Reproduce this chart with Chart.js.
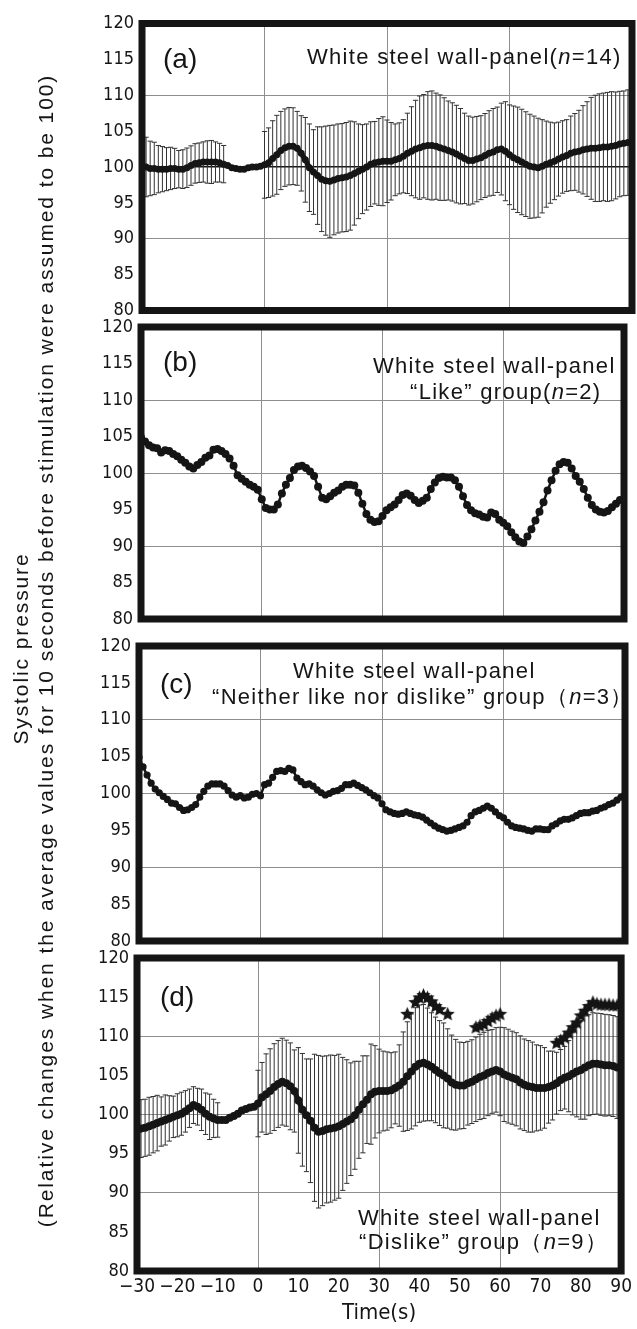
<!DOCTYPE html>
<html><head><meta charset="utf-8">
<script src="https://cdn.jsdelivr.net/npm/chart.js@4"></script>
<style>
html,body{margin:0;padding:0;background:#fff;}
#wrap{position:relative;width:637px;height:1329px;overflow:hidden;background:#fff;}
canvas{position:absolute;left:0;}
.t{position:absolute;white-space:nowrap;font-family:"Liberation Sans",Arial,sans-serif;color:#151515;}
.ttl{font-size:22px;line-height:22px;letter-spacing:1.3px;}
.lab{font-size:28px;line-height:28px;}
.ylab{position:absolute;font-family:"Liberation Sans",Arial,sans-serif;font-size:21px;line-height:21px;letter-spacing:1.9px;white-space:nowrap;text-align:center;width:1300px;height:21px;transform:rotate(-90deg);color:#151515;}
</style></head>
<body>
<div id="wrap">
  <canvas id="ca" width="637" height="330" style="top:0px"></canvas>
  <canvas id="cb" width="637" height="340" style="top:300px"></canvas>
  <canvas id="cc" width="637" height="344" style="top:616px"></canvas>
  <canvas id="cd" width="637" height="399" style="top:930px"></canvas>

  <div class="ylab" style="left:-630px;top:637.5px">Systolic pressure</div>
  <div class="ylab" style="left:-605px;top:639.5px">(Relative changes when the average values for 10 seconds before stimulation were assumed to be 100)</div>

  <div class="t lab" style="left:163px;top:45px">(a)</div>
  <div class="t ttl" style="left:307px;top:46px">White steel wall-panel(<i>n</i>=14)</div>

  <div class="t lab" style="left:163px;top:348px">(b)</div>
  <div class="t ttl" style="left:373px;top:355px">White steel wall-panel</div>
  <div class="t ttl" style="left:410px;top:381px">“Like” group(<i>n</i>=2)</div>

  <div class="t lab" style="left:160px;top:670px">(c)</div>
  <div class="t ttl" style="left:293px;top:660px">White steel wall-panel</div>
  <div class="t ttl" style="left:212px;top:686px">“Neither like nor dislike” group（<i>n</i>=3）</div>

  <div class="t lab" style="left:160px;top:983px">(d)</div>
  <div class="t ttl" style="left:358px;top:1207px">White steel wall-panel</div>
  <div class="t ttl" style="left:359px;top:1231px">“Dislike” group（<i>n</i>=9）</div>
</div>
<script>
// ---------- DATA ----------
const seconds = [-30,-29,-28,-27,-26,-25,-24,-23,-22,-21,-20,-19,-18,-17,-16,-15,-14,-13,-12,-11,
 -10,-9,-8,-7,-6,-5,-4,-3,-2,-1,0,1,2,3,4,5,6,7,8,9,10,11,12,13,14,15,16,17,18,19,
 20,21,22,23,24,25,26,27,28,29,30,31,32,33,34,35,36,37,38,39,40,41,42,43,44,45,46,47,48,49,
 50,51,52,53,54,55,56,57,58,59,60,61,62,63,64,65,66,67,68,69,70,71,72,73,74,75,76,77,78,79,
 80,81,82,83,84,85,86,87,88,89,90];

const yTicks = [80,85,90,95,100,105,110,115,120];
const xTicks = [-30,-20,-10,0,10,20,30,40,50,60,70,80,90];

// (a) all subjects n=14 : mean and SD
const meanA = [100.2,100.0,99.8,99.8,99.7,99.7,99.7,99.8,99.8,99.7,
 99.7,99.9,100.2,100.5,100.6,100.7,100.7,100.7,100.7,100.6,
 100.4,100.2,99.9,99.8,99.7,99.7,99.9,100.0,100.0,100.1,
 100.3,100.6,101.2,101.7,102.3,102.7,102.9,102.9,102.6,101.9,
 101.0,99.9,99.3,98.8,98.3,98.1,98.0,98.2,98.4,98.5,
 98.6,98.8,99.1,99.4,99.7,100.0,100.4,100.6,100.7,100.8,
 100.8,100.8,101.0,101.2,101.5,101.9,102.2,102.5,102.7,102.9,
 103.0,103.0,102.9,102.7,102.5,102.3,102.1,101.8,101.5,101.2,
 100.9,100.9,101.1,101.3,101.6,101.9,102.1,102.4,102.5,102.2,
 101.7,101.3,101.0,100.7,100.4,100.1,100.0,99.9,100.1,100.4,
 100.6,100.8,101.1,101.4,101.6,101.9,102.1,102.2,102.4,102.5,
 102.6,102.6,102.7,102.8,102.8,102.9,103.0,103.2,103.3,103.4,
 103.5];
const sdA = [4.4,4.15,3.8,3.65,3.3,3.15,3.0,2.95,2.8,2.6,
 2.7,2.75,2.75,2.75,2.75,2.8,2.95,3.0,2.8,2.7,
 2.6,null,null,null,null,null,null,null,null,null,
 4.65,4.85,5.25,5.5,5.45,5.4,5.4,5.35,5.15,5.25,
 5.9,6.1,5.9,6.8,7.3,7.6,7.8,7.65,7.6,7.55,
 7.6,7.6,7.2,6.6,6.2,6.0,5.9,5.75,6.05,6.2,
 5.75,5.4,5.0,4.95,5.1,5.6,6.2,6.8,7.2,7.2,
 7.5,7.6,7.4,7.35,7.15,6.9,6.85,6.8,6.65,6.3,
 6.2,6.05,5.95,5.85,5.85,5.95,6.05,5.95,6.4,6.9,
 6.95,7.2,7.35,7.35,7.3,7.25,7.1,6.9,6.5,6.0,
 5.65,5.35,5.15,5.05,5.0,5.2,5.35,5.7,6.15,6.6,
 7.1,7.4,7.5,7.5,7.6,7.6,7.45,7.35,7.3,7.35,
 7.35];

// (b) "Like" group n=2
const meanB = [104.9,104.3,103.8,103.5,103.4,102.8,103.1,103.0,102.6,102.3,
 101.8,101.4,100.9,100.6,101.1,101.5,102.1,102.4,103.2,103.3,
 103.0,102.6,102.0,101.0,99.7,99.2,98.8,98.4,98.1,97.7,
 96.4,95.2,95.0,95.0,95.7,97.2,98.4,99.3,100.4,100.9,
 101.0,100.7,100.2,99.6,98.1,96.6,96.4,96.8,97.3,97.6,
 98.1,98.4,98.4,98.3,97.3,95.8,94.4,93.6,93.3,93.4,
 94.1,94.9,95.3,95.7,96.3,97.0,97.2,96.9,96.3,95.9,
 96.2,96.6,97.8,98.7,99.3,99.5,99.4,99.4,99.0,98.1,
 96.8,95.6,94.9,94.5,94.3,94.0,93.9,94.6,94.4,93.6,
 93.2,92.7,91.9,91.2,90.6,90.4,91.3,92.3,93.5,94.7,
 96.0,97.6,99.0,100.3,101.2,101.5,101.4,100.6,99.6,98.8,
 97.8,96.6,95.6,95.0,94.7,94.6,94.8,95.3,95.8,96.3,
 96.2];

// (c) "Neither like nor dislike" group n=3
const meanC = [104.9,103.6,102.5,101.4,100.6,100.1,99.6,99.2,98.7,98.6,
 98.1,97.7,97.8,98.1,98.5,99.5,100.3,101.0,101.3,101.3,
 101.3,101.0,100.4,99.8,99.5,99.7,99.4,99.5,99.9,100.0,
 99.7,101.2,101.4,102.2,103.0,103.1,103.0,103.4,103.2,102.1,
 101.6,101.2,101.3,101.0,100.5,100.1,99.8,100.0,100.3,100.4,
 100.7,101.2,101.2,101.4,101.1,100.8,100.5,100.1,99.7,99.4,
 98.6,97.8,97.5,97.3,97.2,97.3,97.5,97.3,97.1,97.0,
 96.8,96.4,96.0,95.6,95.3,95.1,94.9,95.0,95.2,95.4,
 95.6,96.1,97.0,97.5,97.7,98.0,98.3,98.0,97.5,97.0,
 96.7,96.1,95.6,95.4,95.3,95.2,95.0,94.9,95.2,95.2,
 95.1,95.1,95.6,95.9,96.3,96.5,96.5,96.7,97.0,97.3,
 97.4,97.4,97.6,97.7,98.0,98.2,98.5,98.7,99.1,99.5,
 99.9];

// (d) "Dislike" group n=9 : mean and SD
const meanD = [98.0,98.2,98.3,98.5,98.7,98.9,99.1,99.3,99.5,99.7,
 99.9,100.1,100.4,100.8,101.2,101.0,100.6,100.1,99.7,99.5,
 99.3,99.3,99.3,99.6,99.8,100.1,100.5,100.7,100.9,101.0,
 101.4,102.2,102.6,103.0,103.5,103.9,104.2,104.0,103.6,103.0,
 101.8,100.6,99.9,99.2,98.3,97.8,97.9,98.1,98.2,98.3,
 98.5,98.8,99.1,99.4,99.9,100.6,101.3,101.9,102.6,102.9,
 103.0,103.0,103.0,103.1,103.4,103.7,104.2,104.9,105.5,106.1,
 106.5,106.6,106.4,106.1,105.7,105.3,105.0,104.6,104.1,103.8,
 103.7,103.7,104.0,104.2,104.5,104.8,105.0,105.3,105.5,105.7,
 105.5,105.1,104.9,104.7,104.5,104.1,103.8,103.6,103.5,103.4,
 103.4,103.4,103.5,103.7,104.0,104.4,104.7,104.9,105.2,105.5,
 105.7,106.0,106.3,106.5,106.5,106.4,106.3,106.3,106.2,106.0,
 105.9];
const sdD = [3.75,3.7,3.65,3.7,3.6,3.55,3.15,3.2,2.9,2.65,
 2.75,2.75,2.65,2.45,2.35,2.35,2.65,2.65,2.9,2.45,
 2.2,null,null,null,null,null,null,null,null,null,
 4.25,4.45,5.15,5.4,5.55,5.55,5.55,5.5,5.55,5.25,
 6.75,7.2,7.2,7.9,9.4,9.75,9.55,9.4,9.4,9.25,
 9.2,8.5,7.9,7.2,6.9,6.2,6.2,5.6,6.4,5.9,
 5.35,5.1,5.0,4.8,4.6,5.2,6.35,6.95,7.35,7.55,
 7.5,7.45,7.2,6.9,6.75,6.7,6.7,6.35,6.05,5.8,
 5.55,5.5,5.35,5.35,5.4,5.45,5.5,5.45,5.35,5.4,
 5.65,6.0,6.0,5.95,5.95,5.95,5.85,5.85,5.75,5.5,
 5.4,5.15,4.6,4.4,3.95,3.9,4.0,4.55,5.25,5.8,
 6.3,6.6,6.45,6.5,6.45,6.5,6.5,6.45,6.45,6.5,
 6.45];

// significance stars in (d): time and height
const starTimes = [37,39,40,41,42,43,44,45,47, 54,55,56,57,58,59,60, 74,75,76,77,78,79,80,81,82,83,84,85,86,87,88,89];
const starVals  = [112.8,114.3,114.9,115.2,114.9,114.4,113.8,113.4,112.8, 111.1,111.3,111.5,111.9,112.3,112.6,112.8,
                   109.1,109.4,109.8,110.4,111.1,111.7,112.6,113.2,113.8,114.3,114.1,114.0,114.0,114.0,113.9,113.9];

// ---------- DRAWING ----------
const INK = '#151515';
const tickFont = {family:'"Liberation Sans Narrow","DejaVu Sans Condensed",sans-serif', size:18};

function makeStar(r){
  const s = Math.ceil(r*2+2);
  const c = document.createElement('canvas'); c.width = s; c.height = s;
  const g = c.getContext('2d'); g.fillStyle = INK; g.beginPath();
  for (let k=0;k<10;k++){
    const ang = -Math.PI/2 + k*Math.PI/5;
    const rr = (k%2===0) ? r : r*0.45;
    g.lineTo(s/2 + rr*Math.cos(ang), s/2 + rr*Math.sin(ang));
  }
  g.closePath(); g.fill();
  return c;
}

const framePlugin = {
  id:'frame',
  afterDraw(chart){
    const {ctx, chartArea:a} = chart;
    ctx.save(); ctx.strokeStyle = INK; ctx.lineWidth = 7;
    ctx.strokeRect(a.left, a.top, a.right-a.left, a.bottom-a.top);
    ctx.restore();
  }
};

function panel(id, o){
  const datasets = [{
    type:'line', label:'mean', order:0,
    data: seconds.map((t,i)=>({x:t, y:o.mean[i]})),
    borderColor:INK, backgroundColor:INK, borderWidth:o.lw, tension:0,
    pointRadius:o.pr, pointHoverRadius:o.pr, pointBorderWidth:0, pointBackgroundColor:INK
  }];
  if (o.sd){
    const eb = [];
    seconds.forEach((t,i)=>{
      const s = o.sd[i]; if (s == null) return;
      eb.push({x:t, y:o.mean[i]-s}, {x:t, y:o.mean[i]+s}, {x:t, y:null});
    });
    datasets.push({type:'line', label:'sd', order:2, data:eb, spanGaps:false,
      borderColor:'#333', borderWidth:1, pointStyle:'line', pointRadius:2.6, pointHoverRadius:2.6,
      pointBorderColor:'#333', pointBorderWidth:1, pointBackgroundColor:'#333'});
  }
  if (o.stars){
    datasets.push({type:'line', label:'p<0.05', order:-1, showLine:false,
      data: starTimes.map((t,i)=>({x:t, y:starVals[i]})),
      pointStyle: makeStar(7.5), pointRadius:8, pointHoverRadius:8});
  }
  new Chart(document.getElementById(id), {
    type:'line',
    data:{datasets},
    plugins:[framePlugin],
    options:{
      responsive:false, animation:false, devicePixelRatio:1,
      events:[],
      layout:{padding:{top:o.top, right:637-o.right, bottom:0, left:0}},
      plugins:{legend:{display:false}, tooltip:{enabled:false}},
      scales:{
        x:{type:'linear', min:-30, max:90,
          afterBuildTicks: s => { s.ticks = xTicks.map(v=>({value:v})); },
          ticks:{display:!!o.showX, font:{...tickFont, size:19}, color:INK, padding:5,
            maxRotation:0, minRotation:0, autoSkip:false,
            callback: v => v < 0 ? '\u2212' + Math.abs(v) : String(v)},
          grid:{drawTicks:false, lineWidth:1,
            color: c => (c.tick && [0,30,60].includes(c.tick.value)) ? '#8e8e8e' : 'rgba(0,0,0,0)'},
          border:{display:false},
          title:{display:!!o.showX, text:'Time(s)', color:INK,
            font:{family:'"Liberation Sans Narrow","DejaVu Sans Condensed",sans-serif', size:22},
            padding:{top:2, bottom:3}},
          afterFit: s => { s.height = o.xh; }
        },
        y:{min:80, max:120,
          afterBuildTicks: s => { s.ticks = yTicks.map(v=>({value:v})); },
          ticks:{font:tickFont, color:INK, padding:8},
          grid:{drawTicks:false,
            color: c => { const v = c.tick && c.tick.value;
              if (v === 100) return o.bold100 ? INK : '#8e8e8e';
              return (v === 90 || v === 110) ? '#8e8e8e' : 'rgba(0,0,0,0)'; },
            lineWidth: c => (c.tick && c.tick.value === 100 && o.bold100) ? 1.6 : 1},
          border:{display:false},
          afterFit: s => { s.width = o.left; }
        }
      }
    }
  });
}

panel('ca', {mean:meanA, sd:sdA, lw:5, pr:3.5, top:23.5, left:142, right:632, xh:330-310.5, bold100:true});
panel('cb', {mean:meanB, lw:2.5, pr:4, top:27, left:141, right:624, xh:340-319});
panel('cc', {mean:meanC, lw:2.5, pr:3.6, top:30, left:139, right:625, xh:344-325});
panel('cd', {mean:meanD, sd:sdD, stars:true, lw:5, pr:4, top:28, left:137, right:625, xh:399-341, showX:true});
</script>
</body></html>
